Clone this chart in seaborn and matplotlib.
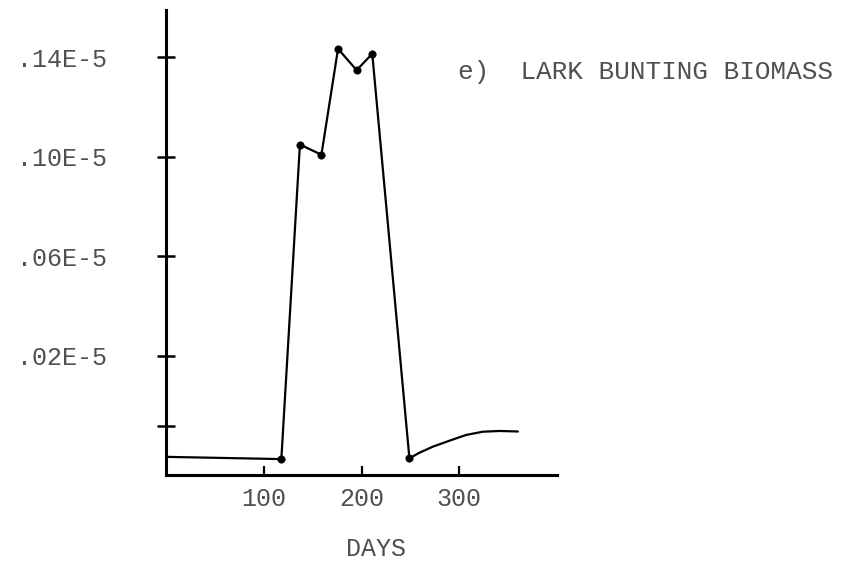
import matplotlib
matplotlib.use("Agg")
import matplotlib.pyplot as plt
import seaborn as sns
import pandas as pd

# Simulated lark bunting biomass (units of 1E-5) over the year
days = [0, 118, 137, 159, 176, 195, 211, 249, 259, 273, 290, 307, 324, 341, 360]
biomass = [-0.0207, -0.0216, 0.1049, 0.1008, 0.1434, 0.1348, 0.1414,
           -0.0213, -0.0191, -0.0166, -0.0142, -0.0119, -0.0106, -0.0103,
           -0.0105]
# sampled points drawn with a dot
marked = [False, True, True, True, True, True, True,
          True, False, False, False, False, False, False, False]

y_ticks = [-0.0082, 0.02, 0.06, 0.10, 0.14]
y_tick_labels = ["", ".02E-5", ".06E-5", ".10E-5", ".14E-5"]
x_ticks = [100, 200, 300]
x_tick_labels = ["100", "200", "300"]

df = pd.DataFrame({"day": days, "biomass": biomass, "marked": marked})

sns.set_style("white")
plt.rcParams["font.family"] = ["Liberation Mono", "DejaVu Sans Mono"]

text_color = "#505050"

fig = plt.figure(figsize=(8.41, 5.64), dpi=100)
ax = fig.add_axes([166 / 841, 89 / 564, 391 / 841, 465 / 564])

sns.lineplot(data=df, x="day", y="biomass", sort=False, color="black",
             linewidth=1.6, ax=ax)
sns.scatterplot(data=df[df["marked"]], x="day", y="biomass", color="black",
                s=28, edgecolor="black", linewidth=0.5, ax=ax, zorder=3)

ax.set_xlim(0, 400)
ax.set_ylim(-0.028, 0.159)

for side in ("top", "right"):
    ax.spines[side].set_visible(False)
for side in ("left", "bottom"):
    ax.spines[side].set_linewidth(2.2)
    ax.spines[side].set_color("black")

ax.set_yticks(y_ticks)
ax.set_yticklabels(y_tick_labels)
ax.set_xticks(x_ticks)
ax.set_xticklabels(x_tick_labels)

ax.tick_params(axis="y", direction="inout", length=13, width=1.8,
               pad=36, labelsize=18, labelcolor=text_color, color="black",
               left=True)
ax.tick_params(axis="x", direction="in", length=6.5, width=1.6,
               pad=9, labelsize=18, labelcolor=text_color, color="black",
               bottom=True)

ax.set_xlabel("DAYS", fontsize=18, color=text_color)
ax.set_ylabel("")
ax.xaxis.set_label_coords(0.537, -0.133)
ax.xaxis.label.set_va("top")

fig.text(458 / 841, 1 - 72 / 564, "e)  LARK BUNTING BIOMASS",
         fontsize=18.7, color=text_color, ha="left", va="center")

fig.savefig("out.png", dpi=100, facecolor="white")
